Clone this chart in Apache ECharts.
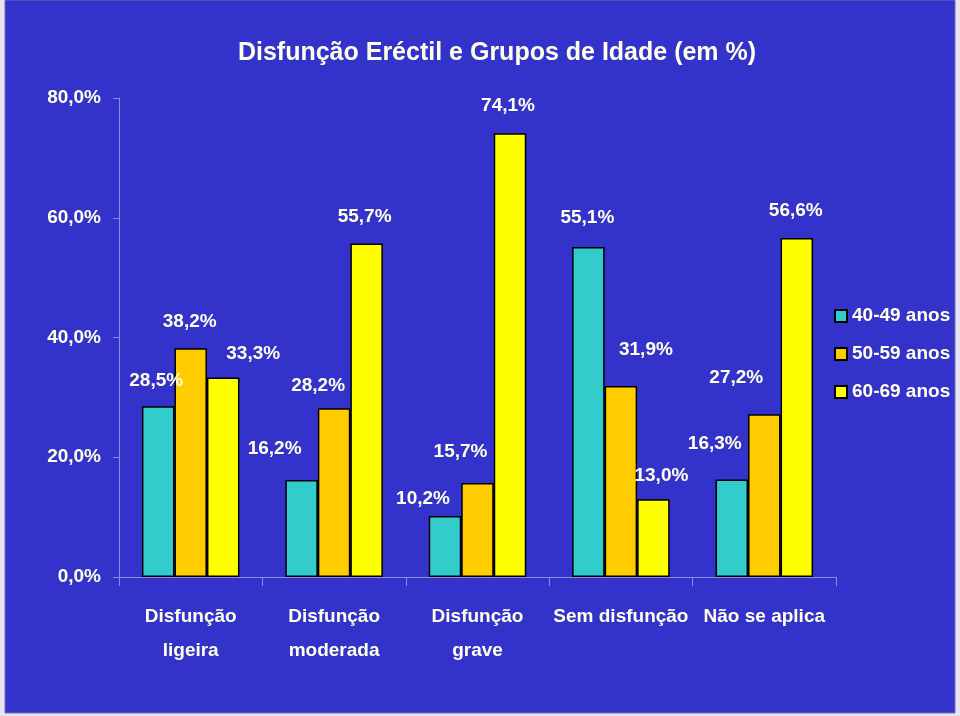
<!DOCTYPE html>
<html>
<head>
<meta charset="utf-8">
<script src="https://cdn.jsdelivr.net/npm/echarts@6/dist/echarts.min.js"></script>
<style>
html,body{margin:0;padding:0;background:#E4E4F4;}
#c{width:960px;height:716px;}
</style>
</head>
<body>
<div id="c"></div>
<script>
// ---- data ----
var titleText = 'Disfunção Eréctil e Grupos de Idade (em %)';
var categories = ['Disfunção\nligeira', 'Disfunção\nmoderada', 'Disfunção\ngrave', 'Sem disfunção', 'Não se aplica'];
var seriesNames = ['40-49 anos', '50-59 anos', '60-69 anos'];
var age4049 = [28.5, 16.2, 10.2, 55.1, 16.3];
var age5059 = [38.2, 28.2, 15.7, 31.9, 27.2];
var age6069 = [33.3, 55.7, 74.1, 13.0, 56.6];
var yTicks = [0, 20, 40, 60, 80];

// ---- styling (label placement as in reference) ----
var colors = ['#33CCCC', '#FFCC00', '#FFFF00'];
var labelShift = [
  [[-2,-16], [-27,-21], [-22,-7], [-1,-19], [-17,-26]],
  [[-1,-17], [-16,-12], [-17,-21], [25,-26], [-28,-26]],
  [[30,-14], [-2,-17], [-2,-18], [8,-13], [-1,-17]]
];
var txt = '#FFFFE8';
var font = '"Liberation Sans Narrow", "Arial Narrow", "Liberation Sans", Arial, sans-serif';

function fmt(v){ return v.toFixed(1).replace('.', ',') + '%'; }

var allValues = [age4049, age5059, age6069];
var series = allValues.map(function(vals, si){
  return {
    name: seriesNames[si],
    type: 'bar',
    barGap: '0%',
    barCategoryGap: '32%',
    itemStyle: { color: colors[si], borderColor: '#000', borderWidth: 1.5 },
    label: {
      show: true, position: 'top', distance: 0,
      color: txt, fontFamily: font, fontWeight: 'bold', fontSize: 19, lineHeight: 20,
      formatter: function(p){ return fmt(p.value); }
    },
    data: vals.map(function(v, i){
      return { value: v, label: { offset: labelShift[si][i] } };
    })
  };
});

var chart = echarts.init(document.getElementById('c'));
chart.setOption({
  backgroundColor: '#E4E4F4',
  animation: false,
  graphic: [{
    type: 'rect', z: -10, silent: true,
    shape: { x: 5, y: 0, width: 950, height: 713 },
    style: { fill: '#3333CC', stroke: '#7070B0', lineWidth: 1 }
  }],
  title: {
    text: titleText, left: 492, top: 36, textAlign: 'center',
    textStyle: { color: txt, fontFamily: font, fontWeight: 'bold', fontSize: 25 }
  },
  legend: {
    orient: 'vertical', left: 829, top: 301,
    icon: 'rect',
    itemWidth: 12, itemHeight: 12, itemGap: 18,
    data: seriesNames,
    textStyle: { color: txt, fontFamily: font, fontWeight: 'bold', fontSize: 19, lineHeight: 20 }
  },
  grid: { left: 119, right: 124, top: 98, bottom: 139 },
  xAxis: {
    type: 'category', data: categories,
    axisLine: { lineStyle: { color: '#8C8CE6', width: 1 } },
    axisTick: { show: true, length: 9, lineStyle: { color: '#8C8CE6' } },
    axisLabel: {
      color: txt, fontFamily: font, fontWeight: 'bold', fontSize: 19,
      lineHeight: 34, margin: 23, interval: 0
    }
  },
  yAxis: {
    type: 'value', min: yTicks[0], max: yTicks[yTicks.length-1], interval: 20,
    axisLine: { show: true, lineStyle: { color: '#8C8CE6', width: 1 } },
    axisTick: { show: true, length: 6, lineStyle: { color: '#8C8CE6' } },
    splitLine: { show: false },
    axisLabel: {
      color: txt, fontFamily: font, fontWeight: 'bold', fontSize: 19, margin: 18,
      formatter: function(v){ return fmt(v); }
    }
  },
  series: series
});
</script>
</body>
</html>
